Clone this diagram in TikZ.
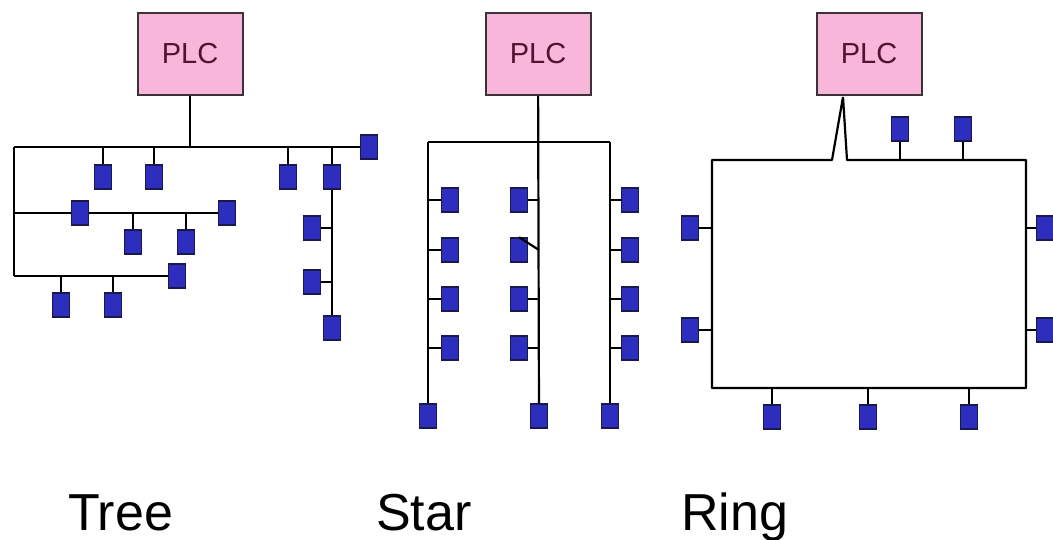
\documentclass[tikz,border=0pt]{standalone}
\usepackage{fontspec}
\setmainfont{Liberation Sans}
\usetikzlibrary{positioning}
\definecolor{PlcPink}{RGB}{247, 182, 218}
\definecolor{PlcEdge}{RGB}{60, 50, 56}
\definecolor{PlcText}{RGB}{80, 20, 50}
\definecolor{DevBlue}{RGB}{45, 45, 190}
\definecolor{DevEdge}{RGB}{25, 25, 75}

\begin{document}
\begin{tikzpicture}[x=1pt, y=-1pt, line width=2.2pt,
    plc/.style={draw=PlcEdge, fill=PlcPink, line width=2pt, minimum width=105pt, minimum height=82pt,
      inner sep=0pt, text=PlcText, font=\fontsize{29}{30}\selectfont},
    dev/.style={draw=DevEdge, fill=DevBlue, line width=1.6pt, minimum width=17pt, minimum height=24pt, inner sep=0pt},
    caption/.style={anchor=base west, inner sep=0pt, font=\fontsize{52}{54}\selectfont}
  ]
  \useasboundingbox (0,0) rectangle (1053,539);

  % tree
  \node[plc] (tplc) at (190,54) {PLC};
  \coordinate (tbus) at (14,147);
  \node[dev] (t11) at (103,177) {};
  \node[dev] (t12) at (154,177) {};
  \node[dev] (t13) at (288,177) {};
  \node[dev] (t14) at (332,177) {};
  \node[dev] (tend) at (369,147) {};
  \node[dev] (t21) at (80,213) {};
  \node[dev] (t22) at (227,213) {};
  \node[dev] (t23) at (133,242) {};
  \node[dev] (t24) at (186,242) {};
  \node[dev] (t31) at (177,276) {};
  \node[dev] (t32) at (61,305) {};
  \node[dev] (t33) at (113,305) {};
  \node[dev] (t41) at (312,228) {};
  \node[dev] (t42) at (312,282) {};
  \node[dev] (t43) at (332,328) {};

  \draw (tplc) -- (tplc |- tbus);
  \draw (tbus) -- (tend);
  \draw (tbus) -- (tbus |- t31);
  \draw (tbus |- t21) -- (t21);
  \draw (t21) -- (t22);
  \draw (tbus |- t31) -- (t31);
  \foreach \d in {t11, t12, t13, t14}
    \draw (\d) -- (\d |- tbus);
  \foreach \d in {t23, t24}
    \draw (\d) -- (\d |- t22);
  \foreach \d in {t32, t33}
    \draw (\d) -- (\d |- t31);
  \draw (t14) -- (t43);
  \draw (t41) -- (t41 -| t14);
  \draw (t42) -- (t42 -| t14);

  % star
  \node[plc] (splc) at (538,54) {PLC};
  \coordinate (sbus) at (539,142);
  \node[dev] (sb1) at (428,416) {};
  \node[dev] (sb2) at (539,416) {};
  \node[dev] (sb3) at (610,416) {};
  \draw (sb1 |- sbus) -- (sb3 |- sbus);
  \draw (splc) -- (sb2);
  \draw (sb1 |- sbus) -- (sb1);
  \draw (sb3 |- sbus) -- (sb3);
  \foreach \i/\y in {1/200, 2/250, 3/299, 4/348} {
    \node[dev] (sl\i) at (450,\y) {};
    \node[dev] (sm\i) at (519,\y) {};
    \node[dev] (sr\i) at (630,\y) {};
    \draw (sl\i -| sb1) -- (sl\i);
    \draw (sr\i -| sb3) -- (sr\i);
  }
  \draw (sm1) -- (sm1 -| sb2);
  \draw (sm2.north) -- (sm2 -| sb2);
  \draw (sm3) -- (sm3 -| sb2);
  \draw (sm4) -- (sm4 -| sb2);

  % ring
  \node[plc] (rplc) at (869,54) {PLC};
  \coordinate (rtap) at (843,97);
  \draw[line join=bevel] (rtap) -- (832,160) -- (712,160) -- (712,388) -- (1026,388)
    -- (1026,160) -- (847,160) -- cycle;
  \coordinate (rtop) at (712,160);
  \coordinate (rbot) at (712,388);
  \coordinate (rright) at (1026,160);
  \node[dev] (rt1) at (900,129) {};
  \node[dev] (rt2) at (963,129) {};
  \node[dev] (rl1) at (690,228) {};
  \node[dev] (rl2) at (690,330) {};
  \node[dev] (rr1) at (1045,228) {};
  \node[dev] (rr2) at (1045,330) {};
  \node[dev] (rb1) at (772,417) {};
  \node[dev] (rb2) at (868,417) {};
  \node[dev] (rb3) at (969,417) {};
  \foreach \d in {rt1, rt2}
    \draw (\d) -- (\d |- rtop);
  \foreach \d in {rb1, rb2, rb3}
    \draw (\d) -- (\d |- rbot);
  \foreach \d in {rl1, rl2}
    \draw (\d) -- (\d -| rtop);
  \foreach \d in {rr1, rr2}
    \draw (\d) -- (\d -| rright);

  % captions
  \node[caption] (ltree) at (67,530) {Tree};
  \node[caption] (lstar) at (375,530) {Star};
  \node[caption] (lring) at (680,530) {Ring};
\end{tikzpicture}
\end{document}
